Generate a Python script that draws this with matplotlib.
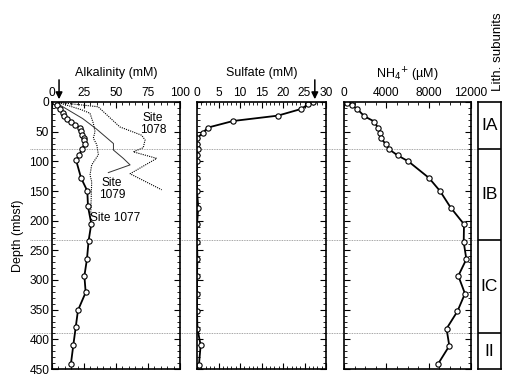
import matplotlib
matplotlib.use("Agg")
import matplotlib.pyplot as plt
from matplotlib.ticker import MultipleLocator
from matplotlib.lines import Line2D

plt.rcParams['font.family'] = ['Liberation Sans', 'DejaVu Sans']

# ---- data ----
alk_depth = [0, 5, 11, 19, 23, 28, 33, 38, 44, 49, 56, 61, 64, 71, 79, 89, 98, 128, 150, 176, 205,
             234, 265, 293, 321, 351, 380, 409, 441]
alk_val = [2, 4, 6, 8.5, 9, 11.5, 15, 18, 22, 22.7, 23.5, 25.3, 25, 25.5, 23.4, 21.4, 18.8, 22.7,
           27.6, 28.1, 30.7, 28.6, 27.3, 25.3, 26.3, 20.3, 18.5, 16.7, 14.8]

s1078_depth = [0, 8, 42, 56, 64, 77, 84, 95, 121, 148]
s1078_val = [2, 36, 53, 70, 72.7, 71.3, 63.5, 81.8, 61, 85.7]

s1079_depth = [0, 10, 28, 46, 70, 81, 95, 106, 119]
s1079_val = [2, 10, 24, 35, 48, 48, 55.7, 61, 44]

s1077_depth = [0, 13, 19, 36, 50, 61, 72, 89, 106, 123, 134, 193]
s1077_val = [3.5, 23, 29.7, 32.3, 33.6, 32.3, 35, 36.2, 31, 29.7, 31, 30.2]

sulf_depth = [0, 4, 12, 23, 32, 43, 52, 61, 71, 80, 90, 99, 128, 150, 178, 206, 236,
              265, 294, 323, 352, 382, 410, 443]
sulf_val = [26.9, 25.9, 24.1, 18.8, 8.4, 2.6, 1.3, 0.1, 0, 0.3, 0.1, 0, 0, 0, 0.3, 0, 0,
            0.1, 0, 0, 0, 0.1, 0.85, 0.45]

nh4_depth = [1, 5, 12, 24, 33, 43, 52, 61, 71, 80, 90, 100, 128, 150, 178, 206, 236,
             265, 293, 323, 353, 382, 411, 442]
nh4_val = [315, 725, 1260, 1920, 2870, 3180, 3400, 3500, 3940, 4280, 5070, 6080, 8030, 9070,
           10080, 11340, 11310, 11560, 10800, 11430, 10710, 9690, 9950, 8870]

unit_bounds = [0, 79, 233, 390, 450]
unit_names = ['IA', 'IB', 'IC', 'II']

alk_arrow = 5.5
sulf_arrow = 27.4

W, H = 520, 382
fig = plt.figure(figsize=(W / 100, H / 100), dpi=100)


def rect(x0, x1, y0=102, y1=369):
    return [x0 / W, (H - y1) / H, (x1 - x0) / W, (y1 - y0) / H]


ax1 = fig.add_axes(rect(52, 180))
ax2 = fig.add_axes(rect(197, 326))
ax3 = fig.add_axes(rect(344, 471))
axl = fig.add_axes(rect(478, 501))

fs = 8.6

for ax in (ax1, ax2, ax3):
    ax.set_ylim(450, 0)
    ax.patch.set_visible(False)
    ax.xaxis.tick_top()
    ax.xaxis.set_label_position('top')
    ax.tick_params(which='both', direction='in', top=True, bottom=True, left=True, right=True,
                   labelsize=fs, pad=2)
    ax.tick_params(which='major', length=4, width=0.8)
    ax.tick_params(which='minor', length=2, width=0.6)
    ax.yaxis.set_major_locator(MultipleLocator(50))
    ax.yaxis.set_minor_locator(MultipleLocator(10))
    for sp in ax.spines.values():
        sp.set_linewidth(1.2)
    ax.tick_params(labelleft=False)

ax1.tick_params(labelleft=True)
ax1.set_ylabel('Depth (mbsf)', fontsize=fs + 0.4, labelpad=4)

mk = dict(marker='o', ms=3.8, mfc='white', mec='black', mew=0.8, color='black', lw=1.3)

# Alkalinity
ax1.set_xlim(0, 100)
ax1.xaxis.set_major_locator(MultipleLocator(25))
ax1.xaxis.set_minor_locator(MultipleLocator(5))
ax1.plot(s1078_val, s1078_depth, ls=(0, (1, 1)), color='black', lw=0.8)
ax1.plot(s1079_val, s1079_depth, ls='-', color='#333333', lw=0.7)
ax1.plot(s1077_val, s1077_depth, ls=(0, (1, 1)), color='black', lw=0.8)
ax1.plot(alk_val, alk_depth, **mk)
ax1.set_xlabel('Alkalinity (mM)', fontsize=fs + 0.4, labelpad=8)
ax1.text(79, 37, 'Site\n1078', fontsize=fs, ha='center', va='center', linespacing=1.05)
ax1.text(47, 147, 'Site\n1079', fontsize=fs, ha='center', va='center', linespacing=1.05)
ax1.text(49, 195, 'Site 1077', fontsize=fs, ha='center', va='center')

# Sulfate
ax2.set_xlim(0, 30)
ax2.xaxis.set_major_locator(MultipleLocator(5))
ax2.xaxis.set_minor_locator(MultipleLocator(1))
ax2.plot(sulf_val, sulf_depth, **mk)
ax2.set_xlabel('Sulfate (mM)', fontsize=fs + 0.4, labelpad=8)

# NH4
ax3.set_xlim(0, 12000)
ax3.xaxis.set_major_locator(MultipleLocator(4000))
ax3.xaxis.set_minor_locator(MultipleLocator(1000))
ax3.plot(nh4_val, nh4_depth, **mk)
ax3.set_xlabel('NH$_4$$^{+}$ (µM)', fontsize=fs + 0.4, labelpad=6)

# arrows
for ax, xv in ((ax1, alk_arrow), (ax2, sulf_arrow)):
    ax.annotate('', xy=(xv, 0), xytext=(xv, -42), xycoords='data', textcoords='data',
                arrowprops=dict(arrowstyle='-|>', color='black', lw=1.1, mutation_scale=10),
                annotation_clip=False)

# Lith column
axl.set_ylim(450, 0)
axl.set_xlim(0, 1)
axl.set_xticks([])
axl.set_yticks([])
for sp in axl.spines.values():
    sp.set_linewidth(1.2)
for i, name in enumerate(unit_names):
    top, bot = unit_bounds[i], unit_bounds[i + 1]
    if i > 0:
        axl.axhline(top, color='black', lw=1.2)
    axl.text(0.5, (top + bot) / 2, name, fontsize=12.5, ha='center', va='center')
axl.text(0.85, -18, 'Lith. subunits', rotation=90, fontsize=9.6, ha='center', va='bottom')

# Horizontal dotted boundaries across panels
for b in unit_bounds[1:-1]:
    y = ax1.transData.transform((0, b))[1]
    yf = y / fig.get_size_inches()[1] / fig.dpi
    fig.add_artist(Line2D([30 / W, 478 / W], [yf, yf], transform=fig.transFigure,
                          color='#888888', lw=0.6, ls=(0, (1, 1)), zorder=-1))

fig.savefig('out.png', dpi=100)
